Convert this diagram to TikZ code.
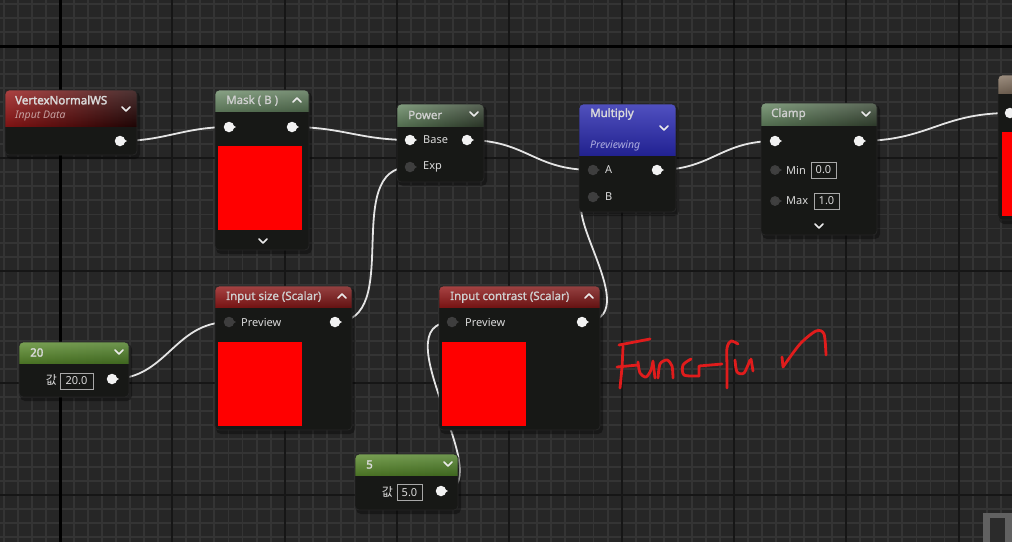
\documentclass[tikz,border=0pt]{standalone}
\usepackage{fontspec}
\setmainfont{Noto Sans}
\newfontfamily\semib[FakeBold=1.3]{Noto Sans}
\newfontfamily\boldt[FakeBold=2.2]{Noto Sans}
\newfontfamily\krfont{Noto Sans CJK KR}
\usetikzlibrary{calc}
\pgfdeclarelayer{grid}
\pgfdeclarelayer{wires}
\pgfsetlayers{grid,wires,main}
\definecolor{bgc}{HTML}{262626}
\definecolor{minorc}{HTML}{343434}
\definecolor{majorc}{HTML}{161616}
\definecolor{bodyc}{HTML}{171816}
\definecolor{wirec}{HTML}{E4E4E4}
\definecolor{pinw}{HTML}{F2F2F2}
\definecolor{pinoffc}{HTML}{3E3E3E}
\definecolor{txt}{HTML}{DADADA}
\definecolor{ttxt}{HTML}{CFCFCF}
\definecolor{valc}{HTML}{A8A8A8}
\definecolor{handc}{HTML}{E01C1C}
\definecolor{gL}{HTML}{678863}
\definecolor{gM}{HTML}{46593F}
\definecolor{gR}{HTML}{33402F}
\definecolor{rL}{HTML}{951A1A}
\definecolor{rM}{HTML}{5C1111}
\definecolor{rR}{HTML}{7A1818}
\definecolor{lgL}{HTML}{5C8C2E}
\definecolor{lgM}{HTML}{2F4619}
\definecolor{lgR}{HTML}{4E7E28}
\definecolor{bL}{HTML}{2A2AAE}
\definecolor{bM}{HTML}{10106C}
\definecolor{bR}{HTML}{2A2AB4}
\definecolor{brL}{HTML}{8A7866}
\definecolor{brR}{HTML}{6A5A4C}
\tikzset{
  wire/.style={draw=wirec, line width=1.8pt},
  uebody/.style={rectangle, fill=bodyc, inner sep=0pt, outer sep=0pt, anchor=north west, rounded corners=4pt},
  ttl/.style={anchor=west, text=ttxt, font=\semib\fontsize{11.5}{13}\selectfont, inner sep=0pt},
  ttlb/.style={anchor=west, text=txt, font=\boldt\fontsize{11.5}{13}\selectfont, inner sep=0pt},
  subt/.style={anchor=west, font=\itshape\fontsize{10.5}{12}\selectfont, inner sep=0pt},
  lbl/.style={anchor=west, text=txt, font=\fontsize{11}{12}\selectfont, inner sep=0pt},
  valbox/.style={draw=valc, line width=0.9pt, text=txt, font=\fontsize{11}{12}\selectfont, inner sep=0pt, minimum height=16pt},
  kr/.style={anchor=east, text=txt, font=\krfont\fontsize{12}{13}\selectfont, inner sep=0pt},
  pinon/.style={circle, fill=pinw, inner sep=0pt, minimum size=10.5pt},
  pinoff/.style={circle, fill=pinoffc, inner sep=0pt, minimum size=10.5pt},
  pinhollow/.style={circle, fill=black!75, draw=pinoffc, line width=1.3pt, inner sep=0pt, minimum size=8.5pt},
  chev/.style={draw=white!92!black, line width=1.6pt, line cap=round, line join=round},
  preview/.style={fill=red},
  hand/.style={draw=handc, line width=2.8pt, line cap=round, line join=round},
}
% node frame: #1 name, #2 x1, #3 y1, #4 x2, #5 y2, #6 header bottom, #7 shading
\newcommand\uenode[7]{%
  \fill[black, opacity=.35, rounded corners=5pt] (#2+1,#3+2) rectangle (#4+3,#5+4);
  \node[uebody, minimum width={(#4)-(#2)}, minimum height={(#5)-(#3)}] (#1) at (#2,#3) {};
  \begin{scope}
    \clip[rounded corners=4pt] (#2,#3) rectangle (#4,#5);
    \shade[#7] (#2,#3) rectangle (#4,#6);
    \shade[top color=black!0, bottom color=black, opacity=.18] (#2,#3) rectangle (#4,#6);
  \end{scope}
  \draw[black!85, line width=.8pt, rounded corners=4pt] (#2,#3) rectangle (#4,#5);
}
% pin: #1 name, #2 x, #3 y, #4 style, #5 colour of its tip
\newcommand\uepin[5]{%
  \fill[#5] (#2+3,#3-2.3) -- (#2+7,#3) -- (#2+3,#3+2.3) -- cycle;
  \node[#4] (#1) at (#2,#3) {};
}
\newcommand\chevdn[2]{\draw[chev] (#1-4,#2-2) -- (#1,#2+2) -- (#1+4,#2-2);}
\newcommand\chevup[2]{\draw[chev] (#1-4,#2+2) -- (#1,#2-2) -- (#1+4,#2+2);}
\begin{document}
\begin{tikzpicture}[x=1pt,y=-1pt]
\useasboundingbox (0,0) rectangle (1012,542);
\begin{pgfonlayer}{grid}
  \fill[bgc] (0,0) rectangle (1012,542);
  \foreach \k in {-4,...,68} {\draw[minorc, line width=1.9pt] ({60+14.04*\k},0) -- ++(0,542);}
  \foreach \k in {-3,...,35} {\draw[minorc, line width=1.9pt] (0,{46+14.04*\k}) -- ++(1012,0);}
  \foreach \m in {1,...,8} {\draw[majorc, line width=2pt] ({60+112.32*\m},0) -- ++(0,542);}
  \foreach \m in {1,...,4} {\draw[majorc, line width=2pt] (0,{46+112.32*\m}) -- ++(1012,0);}
  \draw[black, line width=3pt] (60,0) -- (60,542);
  \draw[black, line width=3pt] (0,46) -- (1012,46);
  % corner widget
  \fill[black!62] (983,513) rectangle (1012,542);
  \fill[black!83] (990,518) rectangle (1005,542);
\end{pgfonlayer}

% ---------- VertexNormalWS ----------
\uenode{vn}{5}{90}{137}{155}{126}{left color=rL!95!red, middle color=rM, right color=black!60!rM}
\node[ttlb] (vn-t) at (15,100) {VertexNormalWS};
\node[subt, text=black!25!rL!40!white] (vn-s) at (15,116.5) {Input Data};
\chevdn{126}{109}
\uepin{vn-out}{120}{141}{pinon}{pinw}

% ---------- Mask ----------
\uenode{mask}{215}{90}{309}{250}{111}{left color=gL!95!white, middle color=gM!85!gL, right color=gL!85!black}
\node[ttl] (mask-t) at (226,100.5) {Mask ( B )};
\chevup{297}{100}
\uepin{mask-in}{229}{127}{pinon}{pinw}
\uepin{mask-out}{292}{127}{pinon}{pinw}
\fill[preview] (218,146) rectangle (302,230);
\chevdn{263}{241}

% ---------- Power ----------
\uenode{pow}{397}{104}{484}{182}{126}{left color=gL, middle color=gM, right color=gR}
\node[ttl] (pow-t) at (408,115) {Power};
\chevdn{474}{114}
\uepin{pow-base}{410}{140}{pinon}{pinw}
\node[lbl] (pow-bl) at (423,140) {Base};
\uepin{pow-out}{467}{140}{pinon}{pinw}
\uepin{pow-exp}{410}{167}{pinoff}{pinoffc}
\node[lbl] (pow-el) at (423,167) {Exp};

% ---------- Multiply ----------
\uenode{mul}{579}{104}{676}{212}{155}{left color=bL, middle color=bM, right color=bR}
\node[ttlb] (mul-t) at (590,114) {Multiply};
\node[subt, text=white!62!bL] (mul-s) at (590,146) {Previewing};
\chevdn{664}{128}
\uepin{mul-a}{593}{170}{pinoff}{pinoffc}
\node[lbl] (mul-al) at (605,170) {A};
\uepin{mul-out}{657}{170}{pinon}{pinw}
\uepin{mul-b}{593}{197}{pinoff}{pinoffc}
\node[lbl] (mul-bl) at (605,197) {B};

% ---------- Clamp ----------
\uenode{cl}{761}{103}{877}{235}{125}{left color=gL, middle color=gM, right color=gR!90!gL}
\node[ttl] (cl-t) at (771,114) {Clamp};
\chevdn{866}{114}
\uepin{cl-in}{775}{141}{pinon}{pinw}
\uepin{cl-out}{859}{141}{pinon}{pinw}
\uepin{cl-min}{775}{170}{pinhollow}{pinoffc}
\node[lbl] (cl-minl) at (786,170) {Min};
\node[valbox, minimum width=25pt] (cl-minv) at (823.5,170) {0.0};
\uepin{cl-max}{775}{201}{pinhollow}{pinoffc}
\node[lbl] (cl-maxl) at (786,201) {Max};
\node[valbox, minimum width=25pt] (cl-maxv) at (826.5,201) {1.0};
\chevdn{819}{226}

% ---------- partial node at right ----------
\uenode{tr}{998}{75}{1040}{220}{93}{left color=brL, right color=brR}
\fill[preview] (1002,132) rectangle (1040,216);
\uepin{tr-in}{1010}{113}{pinon}{pinw}

% ---------- 20 ----------
\uenode{n20}{19}{342}{129}{397}{363}{left color=lgL, middle color=lgM, right color=lgR}
\node[ttlb] (n20-t) at (30,352.5) {20};
\chevdn{119}{352}
\node[kr] (n20-k) at (57,380) {값};
\node[valbox, minimum width=33pt] (n20-v) at (76.5,381) {20.0};
\uepin{n20-out}{112}{379}{pinon}{pinw}

% ---------- Input size ----------
\uenode{isz}{215}{286}{352}{430}{307}{left color=rL, middle color=rM, right color=rR}
\node[ttl] (isz-t) at (226,297) {Input size (Scalar)};
\chevup{342}{296}
\uepin{isz-prev}{229}{322}{pinoff}{pinoffc}
\node[lbl] (isz-pl) at (241,322) {Preview};
\uepin{isz-out}{335}{322}{pinon}{pinw}
\fill[preview] (218,342) rectangle (302,426);

% ---------- Input contrast ----------
\uenode{ict}{439}{286}{600}{430}{307}{left color=rL, middle color=rM, right color=rR}
\node[ttl] (ict-t) at (450,297) {Input contrast (Scalar)};
\chevup{589}{296}
\uepin{ict-prev}{452}{322}{pinoff}{pinoffc}
\node[lbl] (ict-pl) at (465,322) {Preview};
\uepin{ict-out}{582}{322}{pinon}{pinw}
\fill[preview] (442,342) rectangle (526,426);

% ---------- 5 ----------
\uenode{n5}{355}{454}{458}{510}{475}{left color=lgL, middle color=lgM, right color=lgR}
\node[ttlb] (n5-t) at (366,464.5) {5};
\chevdn{448}{464}
\node[kr] (n5-k) at (393,492) {값};
\node[valbox, minimum width=25pt] (n5-v) at (409.5,492.5) {5.0};
\uepin{n5-out}{441}{491}{pinon}{pinw}

% ---------- wires ----------
\begin{pgfonlayer}{wires}
  \draw[wire] (vn-out.center) .. controls +(45,0) and +(-45,0) .. (mask-in.center);
  \draw[wire] (mask-out.center) .. controls +(50,0) and +(-50,0) .. (pow-base.center);
  \draw[wire] (pow-out.center) .. controls +(60,0) and +(-60,0) .. (mul-a.center);
  \draw[wire] (mul-out.center) .. controls +(55,0) and +(-55,0) .. (cl-in.center);
  \draw[wire] (cl-out.center) .. controls +(70,0) and +(-70,0) .. (tr-in.center);
  \draw[wire] (n20-out.center) .. controls +(55,0) and +(-55,0) .. (isz-prev.center);
  \draw[wire] (isz-out.center) .. controls +(70,0) and +(-70,0) .. (pow-exp.center);
  \draw[wire] (ict-out.center) .. controls +(70,0) and +(-45,0) .. (mul-b.center);
  \draw[wire] (n5-out.center) .. controls +(65,0) and +(-75,0) .. (ict-prev.center);
\end{pgfonlayer}

% ---------- handwriting ----------
\draw[hand] (619,345) -- (650,339);
\draw[hand] plot[smooth] coordinates {(623,346) (622,367) (620,388)};
\draw[hand] (617,367) -- (638,365);
\draw[hand] plot[smooth] coordinates {(638,362) (640,373) (646,377) (651,370) (653,361)};
\draw[hand] (653,362) -- (655,378);
\draw[hand] plot[smooth] coordinates {(658,378) (660,364) (667,360) (672,366) (673,378)};
\draw[hand] plot[smooth] coordinates {(691,359) (683,365) (684,375) (699,376)};
\draw[hand] (699,376) -- (699,366) -- (722,364);
\draw[hand] plot[smooth] coordinates {(738,344) (731,341) (727,348) (727,368) (727,388)};
\draw[hand] plot[smooth] coordinates {(735,360) (737,372) (744,373) (750,360)};
\draw[hand] (751,359) -- (753,371);
\draw[hand] plot[smooth] coordinates {(782,357) (783,367)};
\draw[hand] plot[smooth] coordinates {(783,367) (800,344) (816,331) (824,334) (826,355)};
\end{tikzpicture}
\end{document}
